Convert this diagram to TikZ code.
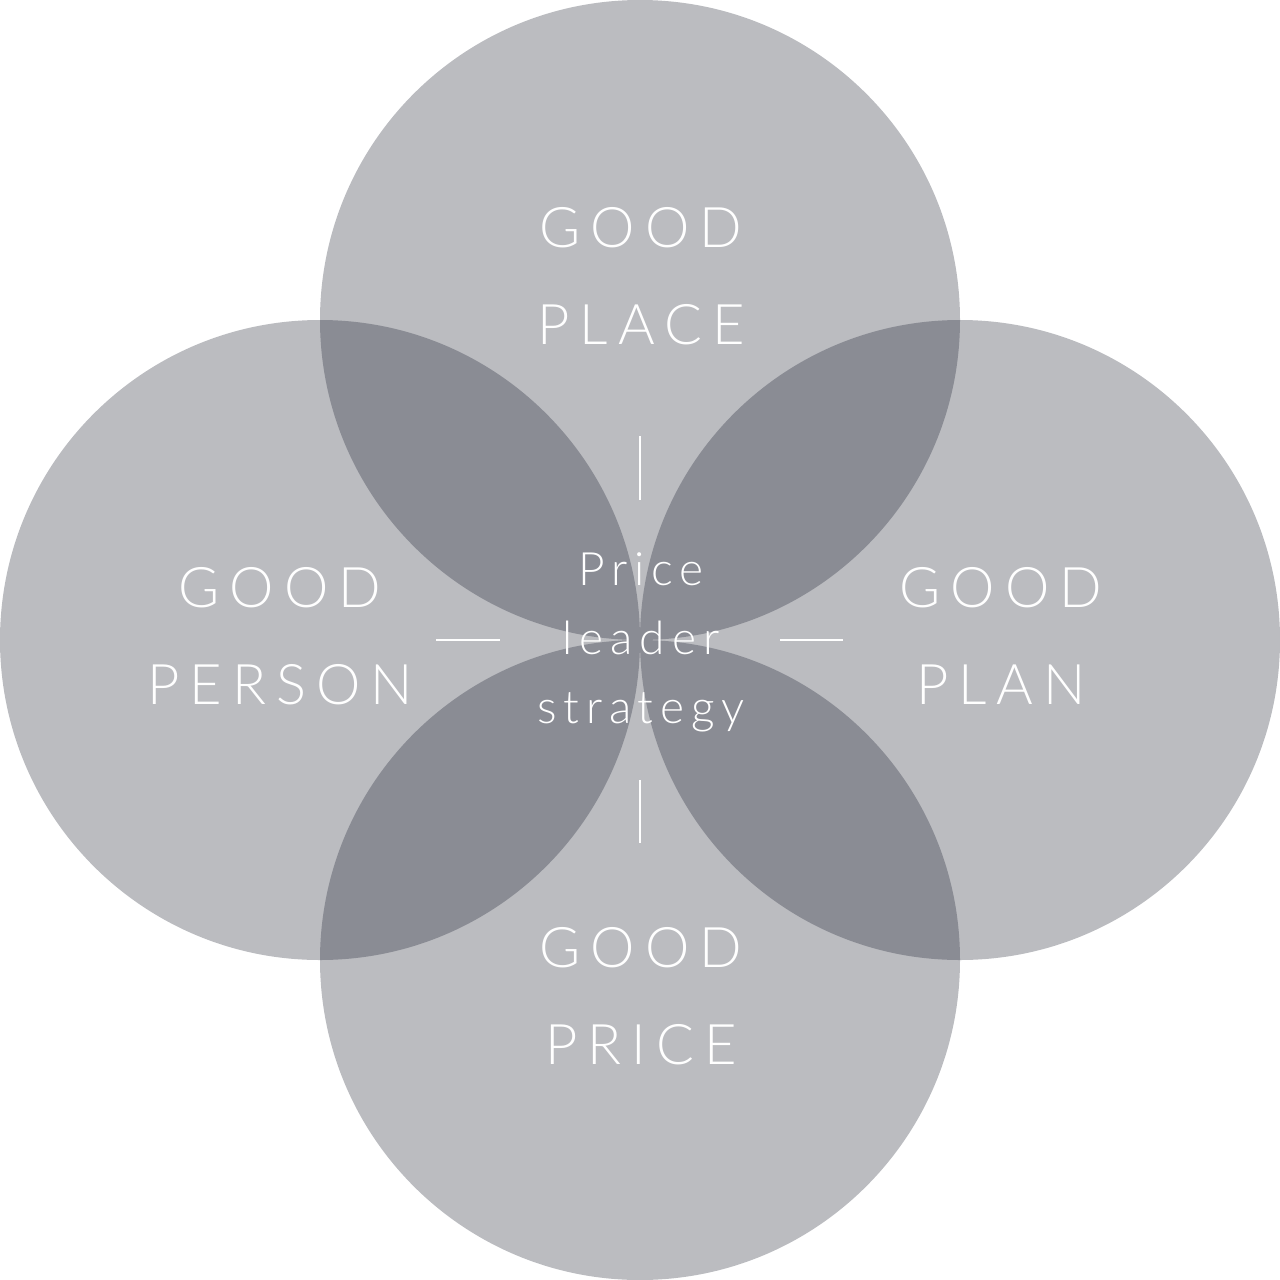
\documentclass[tikz,border=0pt]{standalone}
\usepackage{fontspec}
\newfontfamily\labfont[LetterSpace=18]{Lato Light}
\newfontfamily\cenfont[LetterSpace=15]{Lato Light}
\definecolor{light}{HTML}{BBBCC0}
\definecolor{dark}{HTML}{8A8C94}
\begin{document}
\begin{tikzpicture}[x=1pt,y=-1pt,
  disc/.style={circle,fill=light,minimum size=640pt,inner sep=0pt},
  lab/.style={text=white,font=\labfont\fontsize{56}{97}\selectfont,align=center,inner sep=0pt},
  cen/.style={text=white,font=\cenfont\fontsize{46}{69}\selectfont,align=center,inner sep=0pt},
  tick/.style={draw=white,line width=2pt}]
\useasboundingbox (0,0) rectangle (1280,1280);
\node[disc] (top) at (640,320) {};
\node[disc] (left) at (320,640) {};
\node[disc] (right) at (960,640) {};
\node[disc] (bottom) at (640,960) {};
\begin{scope}
  \clip (640,320) circle (320);
  \fill[dark] (320,640) circle (320);
  \fill[dark] (960,640) circle (320);
\end{scope}
\begin{scope}
  \clip (640,960) circle (320);
  \fill[dark] (320,640) circle (320);
  \fill[dark] (960,640) circle (320);
\end{scope}
\node[lab] (tplace) at (641,276) {GOOD\\PLACE};
\node[lab] (tperson) at (280,636) {GOOD\\PERSON};
\node[lab] (tplan) at (1001,636) {GOOD\\PLAN};
\node[lab] (tprice) at (641,996) {GOOD\\PRICE};
\node[cen] (tcen) at (641,642) {Price\\leader\\strategy};
\coordinate (v1a) at (640,436); \coordinate (v1b) at (640,500);
\coordinate (v2a) at (640,780); \coordinate (v2b) at (640,843);
\coordinate (h1a) at (436,640); \coordinate (h1b) at (500,640);
\coordinate (h2a) at (780,640); \coordinate (h2b) at (843,640);
\draw[tick] (v1a) -- (v1b);
\draw[tick] (v2a) -- (v2b);
\draw[tick] (h1a) -- (h1b);
\draw[tick] (h2a) -- (h2b);
\end{tikzpicture}
\end{document}
